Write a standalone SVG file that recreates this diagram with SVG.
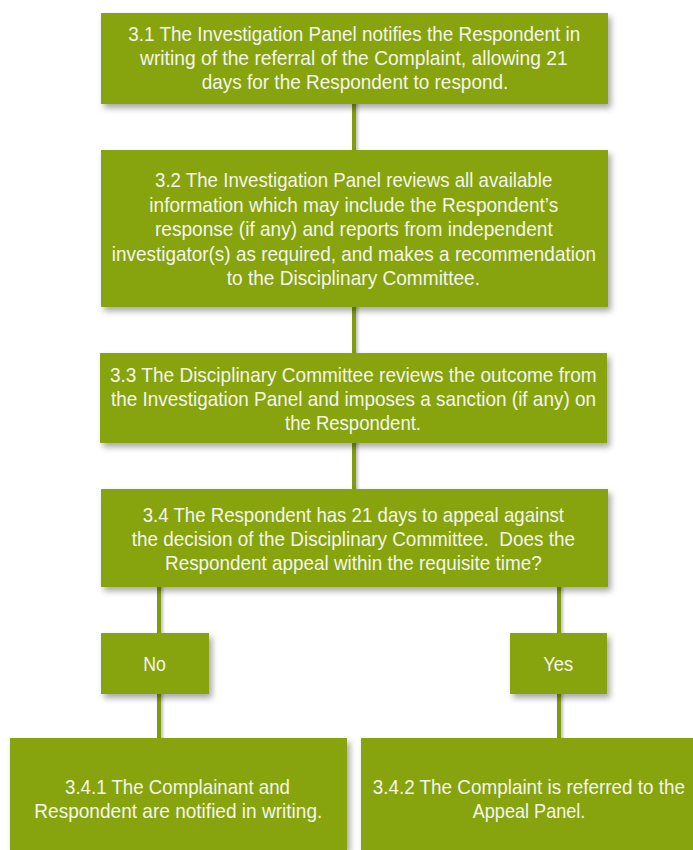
<svg xmlns="http://www.w3.org/2000/svg" width="693" height="850" viewBox="0 0 693 850">
<defs>
<filter id="sh" x="-10%" y="-20%" width="130%" height="160%">
<feDropShadow dx="3" dy="4" stdDeviation="3" flood-color="#000" flood-opacity="0.35"/>
</filter>
<filter id="lsh" filterUnits="userSpaceOnUse" x="0" y="0" width="693" height="850">
<feDropShadow dx="2" dy="0" stdDeviation="1.5" flood-color="#000" flood-opacity="0.25"/>
</filter>
</defs>
<style>
.box{fill:#87A30B;filter:url(#sh);}
.t{font-family:"Liberation Sans Narrow","Liberation Sans",Arial,sans-serif;font-size:21px;fill:#F4F6EC;}
.c{fill:#7F9C10;}
</style>
<rect width="693" height="850" fill="#FFFFFF"/>
<g id="connectors" filter="url(#lsh)">
<rect class="c" x="352" y="100" width="4" height="54"/>
<rect class="c" x="352" y="303" width="4" height="54"/>
<rect class="c" x="352" y="439" width="4" height="54"/>
<rect class="c" x="157" y="583" width="4" height="54"/>
<rect class="c" x="157" y="690" width="4" height="52"/>
<rect class="c" x="557" y="583" width="4" height="54"/>
<rect class="c" x="557" y="690" width="4" height="52"/>
</g>
<g id="n31">
<rect class="box" x="101" y="13" width="507" height="91"/>
<text class="t" x="128.3" y="41" textLength="452" lengthAdjust="spacingAndGlyphs">3.1 The Investigation Panel notifies the Respondent in</text>
<text class="t" x="140" y="65" textLength="427.7" lengthAdjust="spacingAndGlyphs">writing of the referral of the Complaint, allowing 21</text>
<text class="t" x="201.7" y="88.5" textLength="306.6" lengthAdjust="spacingAndGlyphs">days for the Respondent to respond.</text>
</g>
<g id="n32">
<rect class="box" x="101" y="150" width="507" height="157"/>
<text class="t" x="155" y="187" textLength="397.3" lengthAdjust="spacingAndGlyphs">3.2 The Investigation Panel reviews all available</text>
<text class="t" x="149.3" y="211.5" textLength="409" lengthAdjust="spacingAndGlyphs">information which may include the Respondent’s</text>
<text class="t" x="155" y="236" textLength="397.7" lengthAdjust="spacingAndGlyphs">response (if any) and reports from independent</text>
<text class="t" x="111.7" y="260.5" textLength="484.3" lengthAdjust="spacingAndGlyphs">investigator(s) as required, and makes a recommendation</text>
<text class="t" x="226.7" y="284.5" textLength="253.3" lengthAdjust="spacingAndGlyphs">to the Disciplinary Committee.</text>
</g>
<g id="n33">
<rect class="box" x="100" y="353" width="507" height="90"/>
<text class="t" x="110" y="382.3" textLength="486.7" lengthAdjust="spacingAndGlyphs">3.3 The Disciplinary Committee reviews the outcome from</text>
<text class="t" x="111" y="406" textLength="485" lengthAdjust="spacingAndGlyphs">the Investigation Panel and imposes a sanction (if any) on</text>
<text class="t" x="285" y="429.5" textLength="136" lengthAdjust="spacingAndGlyphs">the Respondent.</text>
</g>
<g id="n34">
<rect class="box" x="101" y="489" width="507" height="98"/>
<text class="t" x="142.7" y="522.3" textLength="421.3" lengthAdjust="spacingAndGlyphs">3.4 The Respondent has 21 days to appeal against</text>
<text class="t" x="131.7" y="546.3" textLength="443.3" lengthAdjust="spacingAndGlyphs">the decision of the Disciplinary Committee.&#160; Does the</text>
<text class="t" x="165" y="570" textLength="376.7" lengthAdjust="spacingAndGlyphs">Respondent appeal within the requisite time?</text>
</g>
<g id="no">
<rect class="box" x="101" y="633" width="108" height="61"/>
<text class="t" x="143.3" y="670.7" textLength="22.7" lengthAdjust="spacingAndGlyphs">No</text>
</g>
<g id="yes">
<rect class="box" x="510" y="633" width="97" height="61"/>
<text class="t" x="543.3" y="670.7" textLength="30" lengthAdjust="spacingAndGlyphs">Yes</text>
</g>
<g id="n341">
<rect class="box" x="10" y="738" width="337" height="112"/>
<text class="t" x="65" y="794" textLength="225" lengthAdjust="spacingAndGlyphs">3.4.1 The Complainant and</text>
<text class="t" x="34.3" y="818.3" textLength="288" lengthAdjust="spacingAndGlyphs">Respondent are notified in writing.</text>
</g>
<g id="n342">
<rect class="box" x="361" y="738" width="332" height="112"/>
<text class="t" x="355.35" y="794" textLength="347" lengthAdjust="spacingAndGlyphs" transform="translate(528.85,0) scale(0.9,1) translate(-528.85,0)">3.4.2 The Complaint is referred to the</text>
<text class="t" x="472.7" y="818.3" textLength="112.7" lengthAdjust="spacingAndGlyphs">Appeal Panel.</text>
</g>
</svg>
